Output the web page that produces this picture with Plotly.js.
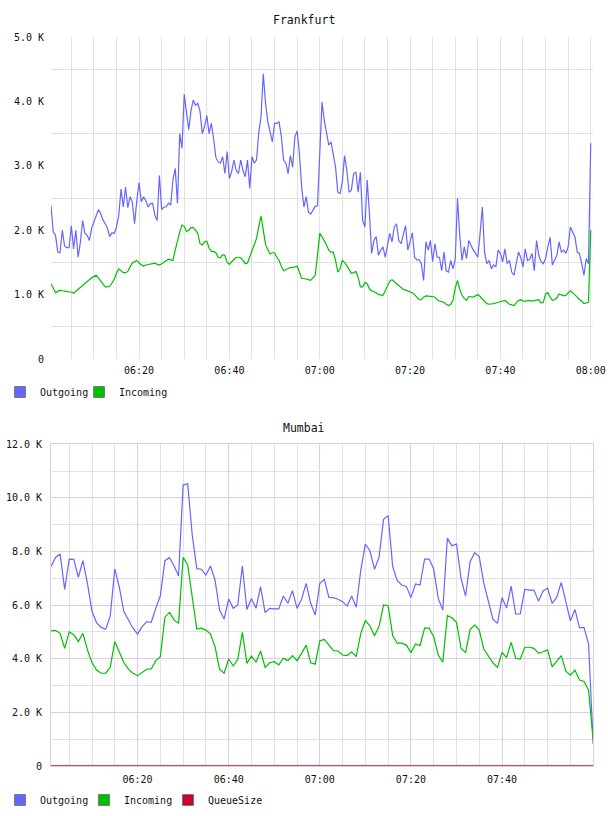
<!DOCTYPE html>
<html><head><meta charset="utf-8">
<script src="https://cdn.plot.ly/plotly-3.0.1.min.js"></script>
<style>html,body{margin:0;padding:0;background:#fff}#chart{width:608px;height:816px}</style>
</head><body><div id="chart"></div>
<script>
// ---------- Frankfurt (30 s samples, values in thousands) ----------
const frankfurtStart = '2024-01-01 06:00:30';
const frankfurtStepSec = 30;
const frankfurtOutgoingK = [
2.38,1.97,1.92,1.66,1.65,2.00,1.76,1.73,1.73,2.07,
1.71,2.00,1.58,1.81,2.15,1.95,1.92,1.84,2.03,2.12,
2.20,2.32,2.26,2.16,2.10,2.03,1.90,1.96,1.95,2.05,
2.23,2.64,2.36,2.67,2.35,2.52,2.44,2.10,2.46,2.74,
2.44,2.52,2.46,2.36,2.41,2.42,2.23,2.15,2.85,2.32,
2.36,2.36,2.42,2.39,2.78,2.96,2.42,3.50,3.27,4.11,
3.83,3.56,
3.86,4.02,3.94,3.97,3.84,3.50,3.61,3.78,3.50,3.66,
3.42,3.13,3.06,3.04,3.14,2.88,3.22,2.80,2.91,3.09,
2.93,2.88,3.09,2.93,2.83,3.09,2.65,3.14,3.04,3.09,
3.52,3.76,4.43,3.97,3.69,3.50,3.37,3.66,3.66,3.68,
3.45,3.09,3.04,2.88,3.16,2.98,3.45,3.54,3.19,2.67,
2.36,2.52,2.28,2.25,2.31,2.37,2.38,3.30,3.99,3.71,
3.49,
3.32,3.37,3.19,2.98,2.59,2.57,2.75,3.16,2.93,2.59,
2.62,2.88,2.90,2.59,2.90,2.15,2.05,2.78,2.26,1.64,
1.84,1.90,1.61,1.69,1.74,1.58,1.76,1.95,1.82,2.05,
2.10,1.84,1.79,1.95,2.07,1.69,1.84,1.96,1.58,1.54,
1.54,1.48,1.22,1.82,1.69,1.84,1.51,1.79,1.58,1.58,
1.37,1.66,1.37,1.35,1.53,1.40,1.55,2.49,1.92,1.53,
1.74,1.56,
1.84,1.76,1.69,1.64,1.58,1.95,2.36,1.65,1.48,1.53,
1.40,1.46,1.43,1.69,1.64,1.51,1.71,1.48,1.53,1.35,
1.30,1.48,1.66,1.58,1.43,1.71,1.53,1.55,1.64,1.37,
1.84,1.61,1.51,1.48,1.56,1.74,1.89,1.46,1.53,1.61,
1.82,1.66,1.69,1.64,1.74,2.05,1.97,1.90,1.66,1.64,
1.48,1.30,1.56,1.48,3.35
];
const frankfurtIncomingK = [
1.17,1.09,1.03,1.05,1.07,1.06,1.06,1.05,1.04,1.04,
1.02,1.05,1.09,1.12,1.15,1.18,1.21,1.23,1.26,1.28,
1.30,1.26,1.21,1.16,1.12,1.12,1.13,1.18,1.24,1.33,
1.40,1.37,1.34,1.34,1.36,1.43,1.49,1.51,1.53,1.49,
1.46,1.44,1.46,1.47,1.47,1.48,1.49,1.47,1.46,1.48,
1.50,1.53,1.55,1.54,1.53,1.69,1.84,1.97,2.08,2.06,
1.98,2.00,
2.04,2.04,2.00,1.95,1.79,1.77,1.82,1.83,1.72,1.67,
1.67,1.65,1.58,1.57,1.62,1.61,1.50,1.47,1.51,1.55,
1.58,1.58,1.57,1.53,1.48,1.49,1.59,1.68,1.76,1.87,
2.06,2.22,2.00,1.78,1.70,1.63,1.65,1.65,1.58,1.53,
1.44,1.37,1.39,1.41,1.42,1.42,1.43,1.44,1.35,1.25,
1.25,1.24,1.23,1.22,1.26,1.30,1.61,1.95,1.90,1.84,
1.77,
1.69,1.66,1.66,1.53,1.35,1.40,1.53,1.50,1.45,1.39,
1.33,1.34,1.36,1.27,1.12,1.12,1.19,1.17,1.09,1.06,
1.05,1.03,1.00,0.99,0.99,1.06,1.14,1.21,1.23,1.20,
1.16,1.13,1.10,1.08,1.07,1.06,1.05,1.03,1.00,0.96,
0.92,0.92,0.96,0.98,0.98,0.98,0.97,0.96,0.92,0.90,
0.89,0.88,0.85,0.83,0.85,0.91,1.10,1.22,1.08,0.99,
0.94,0.91,
0.97,0.97,0.96,0.98,1.00,0.97,0.93,0.89,0.86,0.85,
0.85,0.86,0.87,0.88,0.89,0.89,0.91,0.88,0.85,0.84,
0.83,0.87,0.91,0.92,0.90,0.90,0.91,0.91,0.90,0.91,
0.92,0.92,0.87,0.88,1.01,1.03,0.96,0.91,0.92,0.95,
1.01,1.00,0.98,0.99,1.03,1.06,1.03,1.00,0.96,0.92,
0.90,0.86,0.87,0.88,2.00
];

// ---------- Mumbai (1 min samples, values in thousands) ----------
const mumbaiStart = '2024-01-01 06:01:00';
const mumbaiStepSec = 60;
const mumbaiOutgoingK = [
7.44,7.78,7.91,6.59,7.72,7.71,7.04,7.66,6.81,5.76,
5.35,5.17,5.10,5.59,7.35,6.66,5.76,5.42,5.14,4.92,
5.20,5.38,5.36,5.88,6.35,7.66,7.77,7.47,7.09,10.48,
10.53,8.62,7.36,7.34,7.12,7.46,6.94,5.82,5.48,6.23,
5.88,6.01,7.46,5.84,6.25,5.88,6.69,5.72,5.88,5.86,
5.86,6.34,6.07,6.54,5.88,6.22,6.81,6.07,5.63,6.81,
6.96,
6.29,6.28,6.22,6.13,5.97,6.34,5.92,7.31,8.28,8.03,
7.34,7.78,9.20,9.34,7.44,6.91,6.75,6.70,6.28,6.79,
6.75,7.72,7.72,7.35,6.25,5.82,8.50,8.21,8.28,7.00,
6.34,7.62,7.96,7.81,6.81,6.09,5.48,5.32,6.28,5.89,
6.71,5.67,5.67,6.59,6.56,6.56,6.15,6.53,6.63,6.07,
6.29,6.85,6.07,5.41,5.84,5.16,5.16,4.55,0.82
];
const mumbaiIncomingK = [
5.04,5.06,4.95,4.39,5.00,4.90,4.64,4.95,4.33,3.85,
3.58,3.46,3.46,3.68,4.64,4.23,3.85,3.61,3.46,3.37,
3.49,3.61,3.62,3.93,4.08,5.55,5.73,5.45,5.32,7.78,
7.50,6.25,5.11,5.14,5.07,4.92,4.45,3.61,3.46,3.99,
3.73,3.98,4.99,3.83,4.10,3.87,4.29,3.68,3.85,3.89,
3.77,4.02,3.93,4.12,3.93,4.20,4.51,3.85,3.80,4.67,
4.72,
4.51,4.30,4.29,4.14,4.12,4.26,4.08,4.95,5.42,5.23,
4.86,5.20,6.01,5.98,4.86,4.58,4.58,4.51,4.23,4.55,
4.49,5.14,5.14,4.82,4.14,3.87,5.61,5.53,5.36,4.39,
4.23,5.10,5.26,5.07,4.36,4.10,3.85,3.68,4.24,4.04,
4.61,4.02,3.99,4.43,4.43,4.39,4.20,4.26,4.33,3.70,
3.93,4.12,3.54,3.39,3.58,3.21,3.15,2.83,0.97
];
const mumbaiQueueSizeK = [
0.01,0.01,0.02,0.02,0.02,0.02,0.03,0.03,0.03,0.03,
0.03,0.03,0.03,0.03,0.03,0.03,0.03,0.03,0.03,0.03,
0.03,0.03,0.03,0.03,0.03,0.02,0.02,0.02,0.02,0.02,
0.02,0.02,0.02,0.02,0.02,0.01,0.01,0.01,0.01,0.01,
0.01,0.01,0.01,0.01,0.01,0.01,0.01,0.01,0.01,0.01,
0.01,0.01,0.01,0.01,0.01,0.01,0.01,0.01,0.01,0.01,
0.01,0.01,0.01,0.01,0.01,0.01,0.01,0.01,0.01,0.01,
0.01,0.01,0.01,0.01,0.01,0.01,0.01,0.01,0.01,0.01,
0.01,0.01,0.01,0.01,0.01,0.01,0.01,0.01,0.01,0.01,
0.01,0.01,0.01,0.01,0.01,0.01,0.01,0.01,0.01,0.01,
0.01,0.01,0.01,0.01,0.01,0.01,0.01,0.01,0.01,0.01,
0.01,0.01,0.01,0.01,0.01,0.01,0.01,0.01,0.01,0.01
];

// ---------- tick labels ----------
const topTickVals = [0,1,2,3,4,5];
const topTickText = ['0','1.0 K','2.0 K','3.0 K','4.0 K','5.0 K'];
const bottomTickVals = [0,2,4,6,8,10,12];
const bottomTickText = ['0','2.0 K','4.0 K','6.0 K','8.0 K','10.0 K','12.0 K'];
const seriesNames = ['Outgoing','Incoming','QueueSize'];
const seriesColors = ['#6666ff','#00c000','#cc0033'];

function timeline(start, stepSec, n){
  const base = new Date(start.replace(' ','T')+'Z').getTime();
  const out = [];
  for(let i=0;i<n;i++){
    out.push(new Date(base + i*stepSec*1000).toISOString().slice(0,19).replace('T',' '));
  }
  return out;
}
const fx = timeline(frankfurtStart, frankfurtStepSec, frankfurtOutgoingK.length);
const mx = timeline(mumbaiStart, mumbaiStepSec, mumbaiOutgoingK.length);

const W = 608, H = 816;
const FONT = '"DejaVu Sans Mono", monospace';
const GRAY = '#e2e2e2';
const PINK = '#e2c9e4';

function line(x,y,color,xa,ya){
  return {x:x,y:y,type:'scatter',mode:'lines',line:{color:color,width:1.2},
          xaxis:xa,yaxis:ya,showlegend:false,hoverinfo:'skip'};
}
function legendBox(name,color,xa,ya,leg){
  return {x:[null],y:[null],type:'scatter',mode:'markers',name:name,
          marker:{symbol:'square',size:11,color:color,line:{color:'#7a7a7a',width:1}},
          xaxis:xa,yaxis:ya,legend:leg,showlegend:true,hoverinfo:'skip'};
}
// blank trailing entry so the last legend label is not clipped
function legendSpacer(xa,ya,leg){
  return {x:[null],y:[null],type:'scatter',mode:'markers',name:'\u00a0',
          marker:{size:1,color:'rgba(0,0,0,0)',line:{width:0}},
          xaxis:xa,yaxis:ya,legend:leg,showlegend:true,hoverinfo:'skip'};
}

const traces = [
  line(fx, frankfurtOutgoingK, seriesColors[0], 'x','y'),
  line(fx, frankfurtIncomingK, seriesColors[1], 'x','y'),
  legendBox(seriesNames[0], seriesColors[0], 'x','y','legend'),
  legendBox(seriesNames[1], seriesColors[1], 'x','y','legend'),
  legendSpacer('x','y','legend'),
  line(mx, mumbaiOutgoingK, seriesColors[0], 'x2','y2'),
  line(mx, mumbaiIncomingK, seriesColors[1], 'x2','y2'),
  line(mx, mumbaiQueueSizeK, seriesColors[2], 'x2','y2'),
  legendBox(seriesNames[0], seriesColors[0], 'x2','y2','legend2'),
  legendBox(seriesNames[1], seriesColors[1], 'x2','y2','legend2'),
  legendBox(seriesNames[2], seriesColors[2], 'x2','y2','legend2'),
  legendSpacer('x2','y2','legend2')
];

const tickFont = {family:FONT,size:10,color:'#111'};
const xDomain = [51/W, 593/W];
const layout = {
  width:W, height:H,
  margin:{l:0,r:0,t:0,b:0,autoexpand:false},
  paper_bgcolor:'#ffffff', plot_bgcolor:'rgba(0,0,0,0)',
  font:{family:FONT,size:10,color:'#111'},
  hovermode:false,
  xaxis:{domain:xDomain,anchor:'y',type:'date',
    range:['2024-01-01 06:00:30','2024-01-01 08:00:30'],
    tickmode:'linear',tick0:'2024-01-01 00:00:00',dtick:1200000,tickformat:'%H:%M',
    showgrid:true,gridcolor:GRAY,gridwidth:1,zeroline:false,showline:false,ticks:'',
    minor:{tickmode:'linear',tick0:'2024-01-01 00:00:00',dtick:300000,showgrid:true,gridcolor:GRAY,gridwidth:1},
    tickfont:tickFont,ticklabelstandoff:4,fixedrange:true,automargin:false},
  yaxis:{domain:[1-359/H,1-37/H],anchor:'x',range:[0,5],
    tickmode:'array',tickvals:topTickVals,ticktext:topTickText,
    showgrid:false,zeroline:false,showline:false,ticks:'',
    minor:{tickmode:'linear',tick0:0.5,dtick:1,showgrid:true,gridcolor:GRAY,gridwidth:1},
    tickfont:tickFont,ticklabelstandoff:6,fixedrange:true,automargin:false},
  xaxis2:{domain:xDomain,anchor:'y2',type:'date',
    range:['2024-01-01 06:01:00','2024-01-01 07:59:58'],
    tickmode:'linear',tick0:'2024-01-01 00:00:00',dtick:1200000,tickformat:'%H:%M',
    showgrid:true,gridcolor:PINK,gridwidth:1,zeroline:false,
    showline:true,mirror:true,linecolor:PINK,linewidth:1,layer:'below traces',ticks:'',
    minor:{tickmode:'linear',tick0:'2024-01-01 00:00:00',dtick:300000,showgrid:true,gridcolor:GRAY,gridwidth:1},
    tickfont:tickFont,ticklabelstandoff:4,fixedrange:true,automargin:false},
  yaxis2:{domain:[1-766/H,1-444.3/H],anchor:'x2',range:[0,12],
    tickmode:'array',tickvals:bottomTickVals,ticktext:bottomTickText,
    showgrid:true,gridcolor:PINK,gridwidth:1,zeroline:false,
    showline:true,mirror:true,linecolor:PINK,linewidth:1,layer:'below traces',ticks:'',
    minor:{tickmode:'linear',tick0:1,dtick:2,showgrid:true,gridcolor:GRAY,gridwidth:1},
    tickfont:tickFont,ticklabelstandoff:6,fixedrange:true,automargin:false},
  legend:{orientation:'h',x:0,y:1-392/H,xanchor:'left',yanchor:'middle',
    font:{family:FONT,size:10,color:'#111'},bgcolor:'rgba(0,0,0,0)',
    entrywidth:34,entrywidthmode:'pixels',itemclick:false,itemdoubleclick:false},
  legend2:{orientation:'h',x:0,y:1-800/H,xanchor:'left',yanchor:'middle',
    font:{family:FONT,size:10,color:'#111'},bgcolor:'rgba(0,0,0,0)',
    entrywidth:39,entrywidthmode:'pixels',itemclick:false,itemdoubleclick:false},
  annotations:[
    {text:'Frankfurt',xref:'paper',yref:'paper',x:303.5/W,y:1-20/H,
     xanchor:'center',yanchor:'middle',showarrow:false,font:{family:FONT,size:11.5,color:'#111'}},
    {text:'Mumbai',xref:'paper',yref:'paper',x:303.5/W,y:1-428/H,
     xanchor:'center',yanchor:'middle',showarrow:false,font:{family:FONT,size:11.5,color:'#111'}}
  ]
};

Plotly.newPlot('chart', traces, layout, {staticPlot:true,displayModeBar:false});
</script>
</body></html>
